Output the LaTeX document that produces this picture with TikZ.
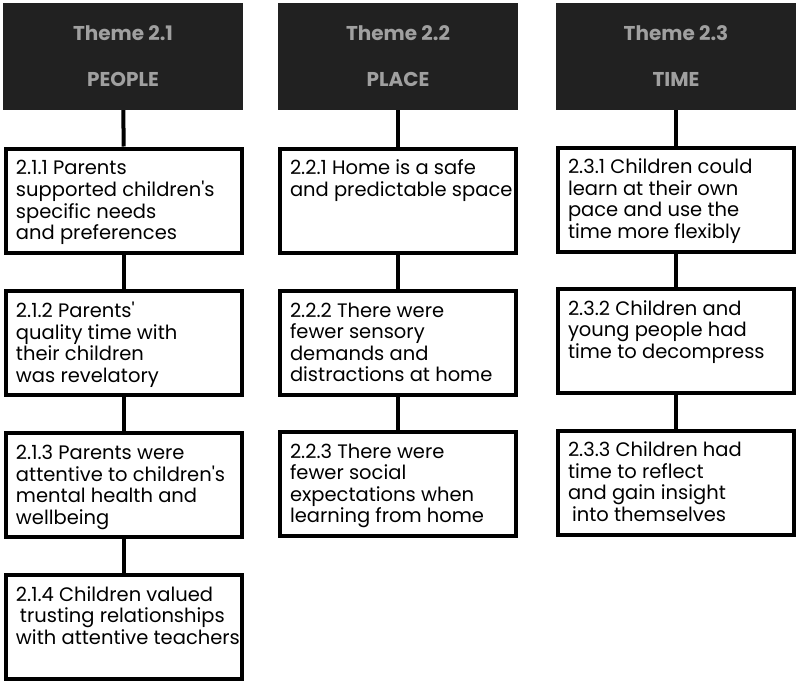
\documentclass[tikz,border=0pt]{standalone}
\usepackage{fontspec}
\setmainfont{Poppins}
\usepackage{tikz}

\definecolor{headfill}{RGB}{33,33,33}
\definecolor{headtext}{RGB}{160,160,160}
\newcommand{\findtext}[1]{\parbox[t][84pt][t]{216pt}{\fontsize{19.5}{21.5}\selectfont\vspace*{1pt}%
  \begin{tabular}[t]{@{}l@{}}#1\end{tabular}}}

\begin{document}
\begin{tikzpicture}[x=1pt, y=-1pt,
    theme/.style={fill=headfill, text=headtext, minimum width=240pt, minimum height=107pt,
      inner sep=0pt, align=center, font=\bfseries\fontsize{20}{24}\selectfont},
    finding/.style={draw, line width=4pt, fill=white, inner xsep=10pt, inner ysep=10pt},
    link/.style={line width=4pt}]
        \useasboundingbox (0,0) rectangle (800,685);

        % themes
        \node [theme] (t1) at (123,56.5) {Theme 2.1\\[22pt]PEOPLE};
        \node [theme] (t2) at (398,56.5) {Theme 2.2\\[22pt]PLACE};
        \node [theme] (t3) at (676,56.5) {Theme 2.3\\[22pt]TIME};

        % people
        \node [finding] (f11) at (124,200.5) {\findtext{2.1.1 Parents\\supported children\textquotesingle s\\specific needs\\and preferences}};
        \node [finding] (f12) at (124,343)   {\findtext{2.1.2 Parents\textquotesingle\\quality time with\\their children\\was revelatory}};
        \node [finding] (f13) at (124,485)   {\findtext{2.1.3 Parents were\\attentive to children\textquotesingle s\\mental health and\\wellbeing}};
        \node [finding] (f14) at (124,627)   {\findtext{2.1.4 Children valued\\\hspace*{4pt}trusting relationships\\with attentive teachers}};

        % place
        \node [finding] (f21) at (398,200.5) {\findtext{2.2.1 Home is a safe\\and predictable space}};
        \node [finding] (f22) at (398,343)   {\findtext{2.2.2 There were\\fewer sensory\\demands and\\distractions at home}};
        \node [finding] (f23) at (398,484)   {\findtext{2.2.3 There were\\fewer social\\expectations when\\learning from home}};

        % time
        \node [finding] (f31) at (676,199.5) {\findtext{2.3.1 Children could\\learn at their own\\pace and use the\\time more flexibly}};
        \node [finding] (f32) at (676,341)   {\findtext{2.3.2 Children and\\young people had\\time to decompress}};
        \node [finding] (f33) at (676,482.5) {\findtext{2.3.3 Children had\\time to reflect\\and gain insight\\\hspace*{4pt}into themselves}};

        \draw [link] (t1) -- (f11);
        \draw [link] (f11) -- (f12);
        \draw [link] (f12) -- (f13);
        \draw [link] (f13) -- (f14);

        \draw [link] (t2) -- (f21);
        \draw [link] (f21) -- (f22);
        \draw [link] (f22) -- (f23);

        \draw [link] (t3) -- (f31);
        \draw [link] (f31) -- (f32);
        \draw [link] (f32) -- (f33);
\end{tikzpicture}
\end{document}
